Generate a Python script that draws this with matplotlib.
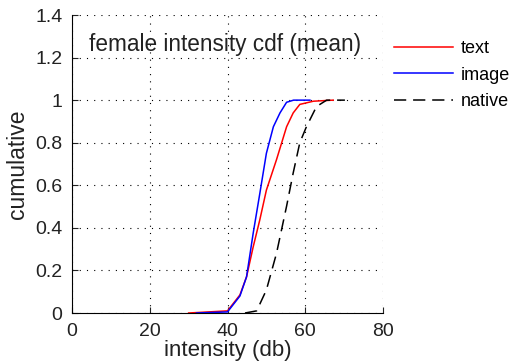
import matplotlib
matplotlib.use("Agg")
import matplotlib.pyplot as plt

plt.rcParams['font.family'] = ['Liberation Sans', 'DejaVu Sans']

# curves
text_x = [30, 40, 43.2, 44.9, 46.6, 48.3, 50.0, 52.6, 55.2, 56.9, 58.6, 62.1, 67.2]
text_y = [0, 0.01, 0.085, 0.17, 0.31, 0.437, 0.577, 0.72, 0.875, 0.94, 0.98, 0.995, 1.0]

image_x = [32, 40, 43.2, 44.9, 46.6, 48.3, 50.0, 51.8, 53.5, 55.2, 57.0, 61.2]
image_y = [0, 0.005, 0.08, 0.17, 0.374, 0.56, 0.75, 0.875, 0.94, 0.99, 1.0, 1.0]

native_x = [44.5, 47.5, 50.0, 52.6, 55.2, 56.9, 58.6, 60.3, 62.9, 65.5, 70.2]
native_y = [0, 0.01, 0.108, 0.28, 0.502, 0.658, 0.8, 0.875, 0.97, 1.0, 1.0]

xticks = [0, 20, 40, 60, 80]
yticks = [0, 0.2, 0.4, 0.6, 0.8, 1, 1.2, 1.4]
yticklabels = ["0", "0.2", "0.4", "0.6", "0.8", "1", "1.2", "1.4"]

fig = plt.figure(figsize=(5.15, 3.62), dpi=100)
ax = fig.add_axes([72 / 515, 1 - 313 / 362, (383 - 72) / 515, (313 - 15) / 362])

ax.plot(text_x, text_y, color="red", lw=1.1, label="text")
ax.plot(image_x, image_y, color="blue", lw=1.1, label="image")
ax.plot(native_x, native_y, color="black", lw=1.1, ls=(0, (8, 4.5)), label="native")

ax.set_xlim(0, 80)
ax.set_ylim(0, 1.4)
ax.set_xticks(xticks)
ax.set_yticks(yticks)
ax.set_yticklabels(yticklabels)
ax.tick_params(direction="in", labelsize=14, length=4, colors="#222222")
ax.tick_params(axis="x", pad=7)
ax.tick_params(axis="y", pad=7)
ax.grid(True, color="black", ls=(0, (1, 5.5)), lw=0.8)
ax.spines["top"].set_visible(False)
ax.spines["right"].set_visible(False)

ax.text(39.3, 1.26, "female intensity cdf (mean)", fontsize=16.3, ha="center", va="center",
        color="#222222")
ax.set_xlabel("intensity (db)", fontsize=16, labelpad=0, color="#222222")
ax.set_ylabel("cumulative", fontsize=16.5, labelpad=4, color="#222222")

ax.legend(loc="upper left", bbox_to_anchor=(1.005, 0.945), frameon=False, fontsize=13,
          handlelength=3.3, handletextpad=0.4, labelspacing=0.52, borderaxespad=0.2,
          borderpad=0.3)

fig.savefig("out.png", dpi=100)
